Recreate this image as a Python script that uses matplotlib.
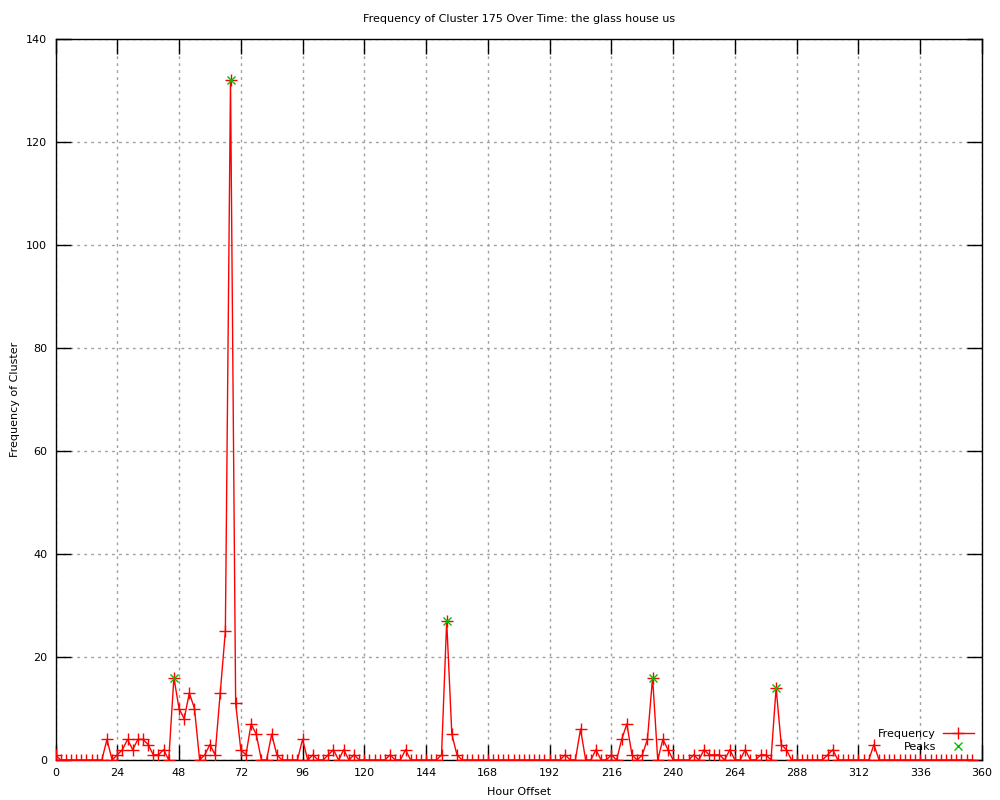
import matplotlib
matplotlib.use("Agg")
import matplotlib.pyplot as plt

# hourly offsets, one sample every 2 hours
hours = list(range(0, 358, 2))
freq = [
    1, 0, 0, 0, 0, 0, 0, 0, 0, 0,
    4, 0, 1, 2, 4, 2, 4, 4, 3, 1,
    1, 2, 0, 16, 10, 8, 13, 10, 0, 1,
    3, 1, 13, 25, 132, 11, 2, 1, 7, 5,
    0, 0, 5, 1, 0, 0, 0, 0, 4, 0,
    1, 0, 0, 1, 2, 0, 2, 0, 1, 0,
    0, 0, 0, 0, 0, 1, 0, 0, 2, 0,
    0, 0, 0, 0, 0, 1, 27, 5, 1, 0,
    0, 0, 0, 0, 0, 0, 0, 0, 0, 0,
    0, 0, 0, 0, 0, 0, 0, 0, 0, 1,
    0, 0, 6, 0, 0, 2, 0, 0, 1, 0,
    4, 7, 1, 0, 1, 4, 16, 0, 4, 2,
    0, 0, 0, 0, 1, 0, 2, 1, 1, 1,
    0, 2, 0, 0, 2, 0, 0, 1, 1, 0,
    14, 3, 2, 0, 0, 0, 0, 0, 0, 0,
    1, 2, 0, 0, 0, 0, 0, 0, 0, 3,
    0, 0, 0, 0, 0, 0, 0, 0, 0, 0,
    0, 0, 0, 0, 0, 0, 0, 0, 0,
]

peak_hours = [46, 68, 152, 232, 280]
peak_vals = [16, 132, 27, 16, 14]

xticks = list(range(0, 361, 24))
yticks = list(range(0, 141, 20))

plt.rcParams["font.family"] = "DejaVu Sans"
plt.rcParams["font.size"] = 8

fig = plt.figure(figsize=(10, 8), dpi=100)
ax = fig.add_axes([0.0555, 0.05, 0.9265, 0.90125])

ax.plot(hours, freq, color="red", lw=1, marker="+", ms=8, mew=1,
        label="Frequency", zorder=3)
ax.plot(peak_hours, peak_vals, ls="none", marker="x", color="#00c000",
        ms=6, mew=1, label="Peaks", zorder=4)

ax.set_xlim(0, 360)
ax.set_ylim(0, 140)
ax.set_xticks(xticks)
ax.set_yticks(yticks)
ax.grid(True, color="#a0a0a0", ls=(0, (2, 3)), lw=1)
ax.tick_params(direction="in", length=11, width=1, top=True, right=True,
               labelsize=8, pad=6)
for s in ax.spines.values():
    s.set_linewidth(1)

ax.set_title("Frequency of Cluster 175 Over Time: the glass house us",
             fontsize=8, pad=12)
ax.set_xlabel("Hour Offset", fontsize=8, labelpad=6)
ax.set_ylabel("Frequency of Cluster", fontsize=8, labelpad=4)

ax.legend(loc="lower right", frameon=False, markerfirst=False,
          handlelength=2.8, handletextpad=0.6, fontsize=8,
          borderaxespad=0.35, labelspacing=0.25)

fig.savefig("out.png", dpi=100)
